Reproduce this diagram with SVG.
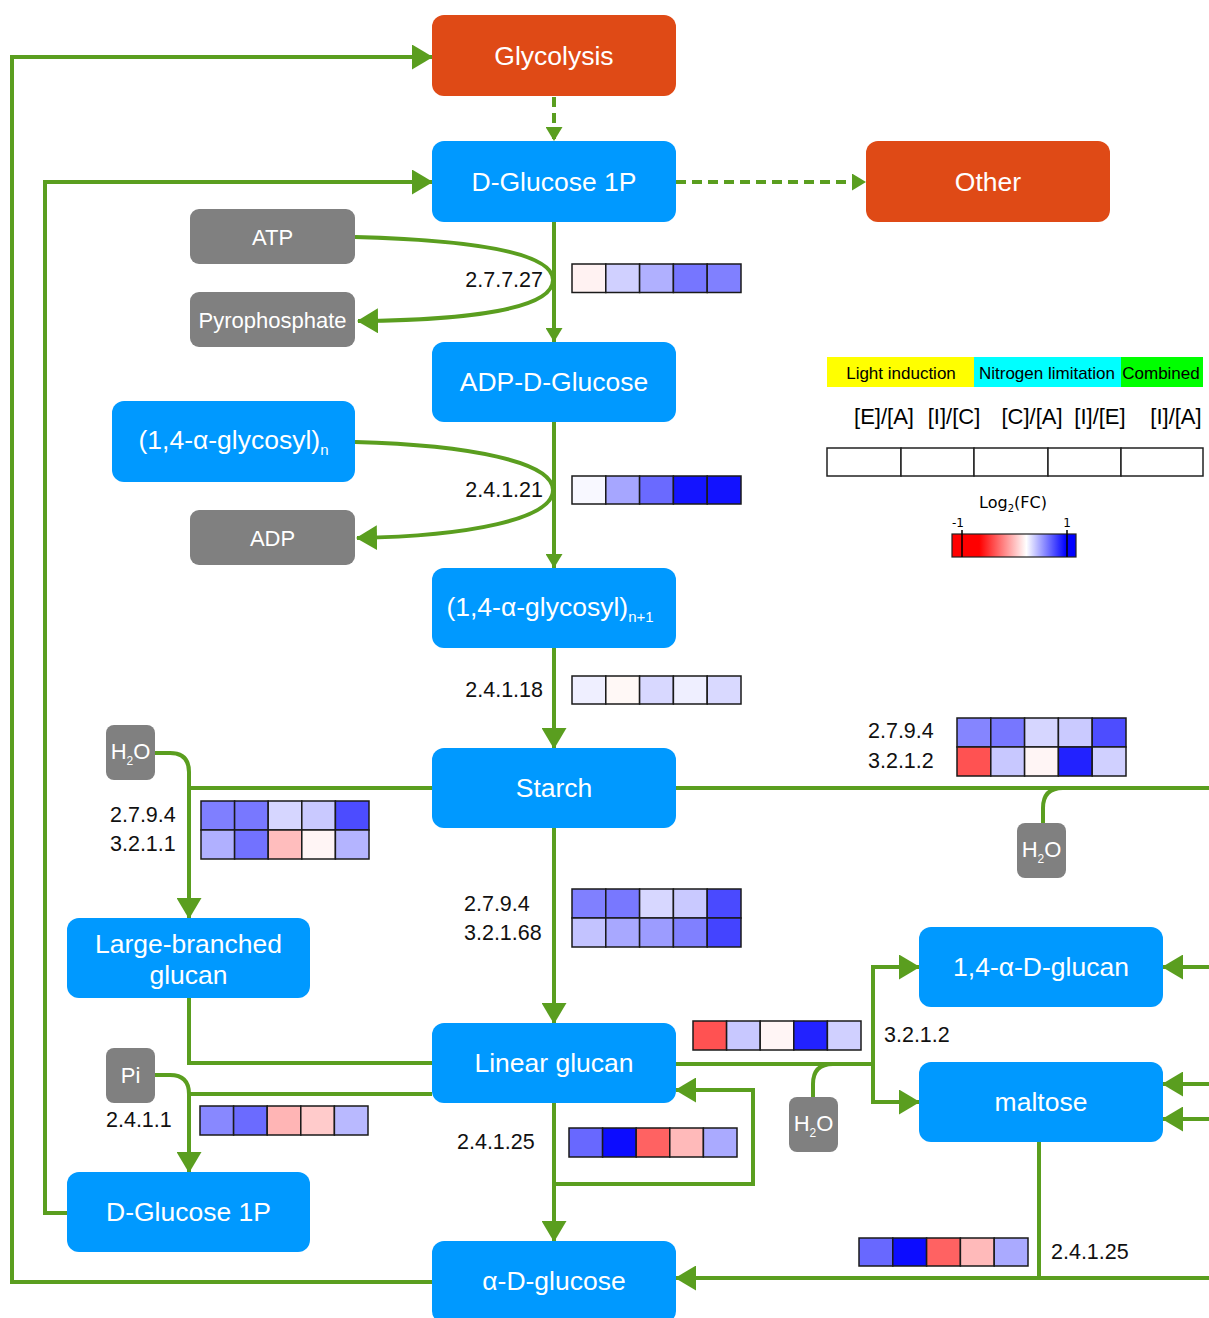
<svg xmlns="http://www.w3.org/2000/svg" width="1209" height="1318" viewBox="0 0 1209 1318">
<style>
.b{fill:#0099ff}
.o{fill:#df4a16}
.g{fill:#808080}
.nt{font-family:"Liberation Sans",Arial,sans-serif;font-size:26.5px;fill:#fff;text-anchor:middle}
.gt{font-family:"Liberation Sans",Arial,sans-serif;font-size:22px;fill:#fff;text-anchor:middle}
.c{fill:none;stroke:#5a9e1f;stroke-width:4}
.d{stroke-dasharray:10 6}
.lb{font-family:"Liberation Sans",Arial,sans-serif;font-size:21.5px;fill:#111}
.hm rect{stroke:#1a1a1a;stroke-width:1.5}
.lg{font-family:"Liberation Sans",Arial,sans-serif;font-size:17px;fill:#000;text-anchor:middle}
.lh{font-family:"Liberation Sans",Arial,sans-serif;font-size:22px;fill:#000;text-anchor:middle}
</style>
<defs>
<marker id="a" markerWidth="21" markerHeight="25" refX="20" refY="12.5" orient="auto" markerUnits="userSpaceOnUse"><path d="M0,0 L21,12.5 L0,25 z" fill="#5a9e1f"/></marker>
<marker id="s" markerWidth="14" markerHeight="17" refX="14" refY="8.5" orient="auto" markerUnits="userSpaceOnUse"><path d="M0,0 L14,8.5 L0,17 z" fill="#5a9e1f"/></marker>
<linearGradient id="cb" x1="0" y1="0" x2="1" y2="0">
<stop offset="0" stop-color="#ff0000"/>
<stop offset="0.22" stop-color="#ff0000"/>
<stop offset="0.6" stop-color="#ffffff"/>
<stop offset="0.92" stop-color="#0000ff"/>
<stop offset="1" stop-color="#0000ff"/>
</linearGradient>
</defs>

<g id="connectors">
<path class="c d" d="M554,97 L554,141" marker-end="url(#s)"/>
<path class="c d" d="M676,182 L866,182" marker-end="url(#s)"/>
<path class="c" d="M432,1282 L12,1282 L12,57 L432,57" marker-end="url(#a)"/>
<path class="c" d="M67,1213 L45,1213 L45,182 L432,182" marker-end="url(#a)"/>
<path class="c" d="M554,222 L554,342" marker-end="url(#s)"/>
<path class="c" d="M355,237 C470,240 553,252 553,280 C553,309 470,320 358,321" marker-end="url(#a)"/>
<path class="c" d="M554,422 L554,568" marker-end="url(#s)"/>
<path class="c" d="M355,442 C470,445 553,462 553,490 C553,519 470,536 357,538" marker-end="url(#a)"/>
<path class="c" d="M554,648 L554,748" marker-end="url(#a)"/>
<path class="c" d="M432,788 L189,788 L189,918" marker-end="url(#a)"/>
<path class="c" d="M155,753 L170,753 Q189,753 189,772 L189,790"/>
<path class="c" d="M676,788 L1209,788"/>
<path class="c" d="M1043,823 L1043,808 Q1043,788 1063,788"/>
<path class="c" d="M554,828 L554,1023" marker-end="url(#a)"/>
<path class="c" d="M189,998 L189,1063 L432,1063"/>
<path class="c" d="M432,1094 L189,1094 L189,1172" marker-end="url(#a)"/>
<path class="c" d="M155,1075 L170,1075 Q189,1075 189,1094"/>
<path class="c" d="M676,1064 L873,1064"/>
<path class="c" d="M873,1064 L873,967 L919,967" marker-end="url(#a)"/>
<path class="c" d="M873,1064 L873,1102 L919,1102" marker-end="url(#a)"/>
<path class="c" d="M813,1097 L813,1084 Q813,1064 833,1064"/>
<path class="c" d="M554,1103 L554,1241" marker-end="url(#a)"/>
<path class="c" d="M554,1184 L753,1184 L753,1090 L676,1090" marker-end="url(#a)"/>
<path class="c" d="M1209,967 L1163,967" marker-end="url(#a)"/>
<path class="c" d="M1209,1084 L1163,1084" marker-end="url(#a)"/>
<path class="c" d="M1209,1119 L1163,1119" marker-end="url(#a)"/>
<path class="c" d="M1039,1142 L1039,1278"/>
<path class="c" d="M1209,1278 L676,1278" marker-end="url(#a)"/>
</g>

<g id="glycolysis"><rect class="o" x="432" y="15" width="244" height="81" rx="12"/><text class="nt" x="554" y="65">Glycolysis</text></g>
<g id="dglucose1p-top"><rect class="b" x="432" y="141" width="244" height="81" rx="12"/><text class="nt" x="554" y="191">D-Glucose 1P</text></g>
<g id="other"><rect class="o" x="866" y="141" width="244" height="81" rx="12"/><text class="nt" x="988" y="191">Other</text></g>
<g id="atp"><rect class="g" x="190" y="209" width="165" height="55" rx="9"/><text class="gt" x="272.5" y="245">ATP</text></g>
<g id="pyrophosphate"><rect class="g" x="190" y="292" width="165" height="55" rx="9"/><text class="gt" x="272.5" y="328">Pyrophosphate</text></g>
<g id="adp-d-glucose"><rect class="b" x="432" y="342" width="244" height="80" rx="12"/><text class="nt" x="554" y="391">ADP-D-Glucose</text></g>
<g id="glycosyl-n"><rect class="b" x="112" y="401" width="243" height="81" rx="12"/><text class="nt" x="233.5" y="449">(1,4-α-glycosyl)<tspan font-size="15" dy="6">n</tspan></text></g>
<g id="adp"><rect class="g" x="190" y="510" width="165" height="55" rx="9"/><text class="gt" x="272.5" y="546">ADP</text></g>
<g id="glycosyl-n1"><rect class="b" x="432" y="568" width="244" height="80" rx="12"/><text class="nt" x="550" y="616">(1,4-α-glycosyl)<tspan font-size="15" dy="6">n+1</tspan></text></g>
<g id="starch"><rect class="b" x="432" y="748" width="244" height="80" rx="12"/><text class="nt" x="554" y="797">Starch</text></g>
<g id="h2o-left"><rect class="g" x="106" y="725" width="49" height="55" rx="8"/><text class="gt" x="130.5" y="759" font-size="19">H<tspan font-size="12" dy="6">2</tspan><tspan dy="-6">O</tspan></text></g>
<g id="h2o-right"><rect class="g" x="1017" y="823" width="49" height="55" rx="8"/><text class="gt" x="1041.5" y="857" font-size="19">H<tspan font-size="12" dy="6">2</tspan><tspan dy="-6">O</tspan></text></g>
<g id="large-branched-glucan"><rect class="b" x="67" y="918" width="243" height="80" rx="12"/><text class="nt" x="188.5" y="953">Large-branched</text><text class="nt" x="188.5" y="984">glucan</text></g>
<g id="glucan-14"><rect class="b" x="919" y="927" width="244" height="80" rx="12"/><text class="nt" x="1041" y="976">1,4-α-D-glucan</text></g>
<g id="linear-glucan"><rect class="b" x="432" y="1023" width="244" height="80" rx="12"/><text class="nt" x="554" y="1072">Linear glucan</text></g>
<g id="pi"><rect class="g" x="106" y="1048" width="49" height="55" rx="8"/><text class="gt" x="130.5" y="1083" font-size="20">Pi</text></g>
<g id="maltose"><rect class="b" x="919" y="1062" width="244" height="80" rx="12"/><text class="nt" x="1041" y="1111">maltose</text></g>
<g id="h2o-mid"><rect class="g" x="789" y="1097" width="49" height="55" rx="8"/><text class="gt" x="813.5" y="1131" font-size="19">H<tspan font-size="12" dy="6">2</tspan><tspan dy="-6">O</tspan></text></g>
<g id="dglucose1p-bottom"><rect class="b" x="67" y="1172" width="243" height="80" rx="12"/><text class="nt" x="188.5" y="1221">D-Glucose 1P</text></g>
<g id="alpha-d-glucose"><rect class="b" x="432" y="1241" width="244" height="82" rx="12"/><text class="nt" x="554" y="1290">α-D-glucose</text></g>

<g id="heatmaps">
<g class="hm">
<rect x="572" y="264" width="33.8" height="28.5" fill="#fff2f2"/><rect x="605.8" y="264" width="33.8" height="28.5" fill="#d0d0ff"/><rect x="639.6" y="264" width="33.8" height="28.5" fill="#b0b0ff"/><rect x="673.4" y="264" width="33.8" height="28.5" fill="#7676ff"/><rect x="707.2" y="264" width="33.8" height="28.5" fill="#8080ff"/>
</g>
<g class="hm">
<rect x="572" y="476" width="33.8" height="28" fill="#f8f8ff"/><rect x="605.8" y="476" width="33.8" height="28" fill="#a6a6ff"/><rect x="639.6" y="476" width="33.8" height="28" fill="#6a6aff"/><rect x="673.4" y="476" width="33.8" height="28" fill="#1414ff"/><rect x="707.2" y="476" width="33.8" height="28" fill="#1212ff"/>
</g>
<g class="hm">
<rect x="572" y="676" width="33.8" height="28" fill="#efefff"/><rect x="605.8" y="676" width="33.8" height="28" fill="#fff8f6"/><rect x="639.6" y="676" width="33.8" height="28" fill="#d8d8ff"/><rect x="673.4" y="676" width="33.8" height="28" fill="#efefff"/><rect x="707.2" y="676" width="33.8" height="28" fill="#d9d9ff"/>
</g>
<g class="hm">
<rect x="957" y="718" width="33.8" height="29" fill="#8585ff"/><rect x="990.8" y="718" width="33.8" height="29" fill="#7777ff"/><rect x="1024.6" y="718" width="33.8" height="29" fill="#d6d6ff"/><rect x="1058.4" y="718" width="33.8" height="29" fill="#cacaff"/><rect x="1092.2" y="718" width="33.8" height="29" fill="#4d4dff"/>
<rect x="957" y="747" width="33.8" height="29" fill="#ff5252"/><rect x="990.8" y="747" width="33.8" height="29" fill="#c8c8ff"/><rect x="1024.6" y="747" width="33.8" height="29" fill="#fff5f5"/><rect x="1058.4" y="747" width="33.8" height="29" fill="#2222ff"/><rect x="1092.2" y="747" width="33.8" height="29" fill="#d0d0ff"/>
</g>
<g class="hm">
<rect x="201" y="801" width="33.6" height="29" fill="#7f7fff"/><rect x="234.6" y="801" width="33.6" height="29" fill="#7878ff"/><rect x="268.2" y="801" width="33.6" height="29" fill="#d6d6ff"/><rect x="301.8" y="801" width="33.6" height="29" fill="#c9c9ff"/><rect x="335.4" y="801" width="33.6" height="29" fill="#4c4cff"/>
<rect x="201" y="830" width="33.6" height="29" fill="#b0b0ff"/><rect x="234.6" y="830" width="33.6" height="29" fill="#7272ff"/><rect x="268.2" y="830" width="33.6" height="29" fill="#ffbdbd"/><rect x="301.8" y="830" width="33.6" height="29" fill="#fff5f5"/><rect x="335.4" y="830" width="33.6" height="29" fill="#b4b4ff"/>
</g>
<g class="hm">
<rect x="572" y="889" width="33.8" height="29" fill="#8080ff"/><rect x="605.8" y="889" width="33.8" height="29" fill="#7878ff"/><rect x="639.6" y="889" width="33.8" height="29" fill="#d7d7ff"/><rect x="673.4" y="889" width="33.8" height="29" fill="#c9c9ff"/><rect x="707.2" y="889" width="33.8" height="29" fill="#4a4aff"/>
<rect x="572" y="918" width="33.8" height="29" fill="#c3c3ff"/><rect x="605.8" y="918" width="33.8" height="29" fill="#a8a8ff"/><rect x="639.6" y="918" width="33.8" height="29" fill="#9c9cff"/><rect x="673.4" y="918" width="33.8" height="29" fill="#8080ff"/><rect x="707.2" y="918" width="33.8" height="29" fill="#4444ff"/>
</g>
<g class="hm">
<rect x="693" y="1021" width="33.6" height="29" fill="#ff5252"/><rect x="726.6" y="1021" width="33.6" height="29" fill="#c8c8ff"/><rect x="760.2" y="1021" width="33.6" height="29" fill="#fff5f5"/><rect x="793.8" y="1021" width="33.6" height="29" fill="#2222ff"/><rect x="827.4" y="1021" width="33.6" height="29" fill="#d0d0ff"/>
</g>
<g class="hm">
<rect x="200" y="1106" width="33.6" height="29" fill="#8888ff"/><rect x="233.6" y="1106" width="33.6" height="29" fill="#6b6bff"/><rect x="267.2" y="1106" width="33.6" height="29" fill="#ffb5b5"/><rect x="300.8" y="1106" width="33.6" height="29" fill="#ffcbcb"/><rect x="334.4" y="1106" width="33.6" height="29" fill="#b9b9ff"/>
</g>
<g class="hm">
<rect x="569" y="1128" width="33.6" height="29" fill="#6868ff"/><rect x="602.6" y="1128" width="33.6" height="29" fill="#0c0cff"/><rect x="636.2" y="1128" width="33.6" height="29" fill="#ff6262"/><rect x="669.8" y="1128" width="33.6" height="29" fill="#ffbaba"/><rect x="703.4" y="1128" width="33.6" height="29" fill="#aaaaff"/>
</g>
<g class="hm">
<rect x="859" y="1238" width="33.8" height="28" fill="#6868ff"/><rect x="892.8" y="1238" width="33.8" height="28" fill="#0c0cff"/><rect x="926.6" y="1238" width="33.8" height="28" fill="#ff6262"/><rect x="960.4" y="1238" width="33.8" height="28" fill="#ffbaba"/><rect x="994.2" y="1238" width="33.8" height="28" fill="#aaaaff"/>
</g>
</g>

<g id="ec-labels">
<text class="lb" x="543" y="287" text-anchor="end">2.7.7.27</text>
<text class="lb" x="543" y="497" text-anchor="end">2.4.1.21</text>
<text class="lb" x="543" y="697" text-anchor="end">2.4.1.18</text>
<text class="lb" x="868" y="738">2.7.9.4</text>
<text class="lb" x="868" y="768">3.2.1.2</text>
<text class="lb" x="110" y="822">2.7.9.4</text>
<text class="lb" x="110" y="851">3.2.1.1</text>
<text class="lb" x="464" y="911">2.7.9.4</text>
<text class="lb" x="464" y="940">3.2.1.68</text>
<text class="lb" x="884" y="1042">3.2.1.2</text>
<text class="lb" x="106" y="1127">2.4.1.1</text>
<text class="lb" x="457" y="1149">2.4.1.25</text>
<text class="lb" x="1051" y="1259">2.4.1.25</text>
</g>

<g id="legend">
<rect x="827" y="357" width="147" height="30" fill="#ffff00"/>
<rect x="974" y="357" width="147" height="30" fill="#00ffff"/>
<rect x="1121" y="357" width="82" height="30" fill="#00ff00"/>
<text class="lg" x="901" y="379">Light induction</text>
<text class="lg" x="1047" y="379">Nitrogen limitation</text>
<text class="lg" x="1161" y="379">Combined</text>
<text class="lh" x="884" y="424">[E]/[A]</text>
<text class="lh" x="954" y="424">[I]/[C]</text>
<text class="lh" x="1032" y="424">[C]/[A]</text>
<text class="lh" x="1100" y="424">[I]/[E]</text>
<text class="lh" x="1176" y="424">[I]/[A]</text>
<g fill="#fff" stroke="#222" stroke-width="1.5">
<rect x="827" y="448" width="74" height="28"/><rect x="901" y="448" width="73" height="28"/><rect x="974" y="448" width="74" height="28"/><rect x="1048" y="448" width="73" height="28"/><rect x="1121" y="448" width="82" height="28"/>
</g>
<text x="1013" y="508" font-family="DejaVu Sans,sans-serif" font-size="16" text-anchor="middle" fill="#000">Log<tspan font-size="10" dy="4">2</tspan><tspan dy="-4">(FC)</tspan></text>
<rect x="952" y="534" width="124" height="23" fill="url(#cb)" stroke="#222" stroke-width="1.2"/>
<line x1="962" y1="530" x2="962" y2="557" stroke="#000" stroke-width="1.5"/>
<line x1="1067" y1="530" x2="1067" y2="557" stroke="#000" stroke-width="1.5"/>
<text x="958" y="527" font-family="DejaVu Sans,sans-serif" font-size="12" text-anchor="middle" fill="#000">-1</text>
<text x="1067" y="527" font-family="DejaVu Sans,sans-serif" font-size="12" text-anchor="middle" fill="#000">1</text>
</g>
</svg>
